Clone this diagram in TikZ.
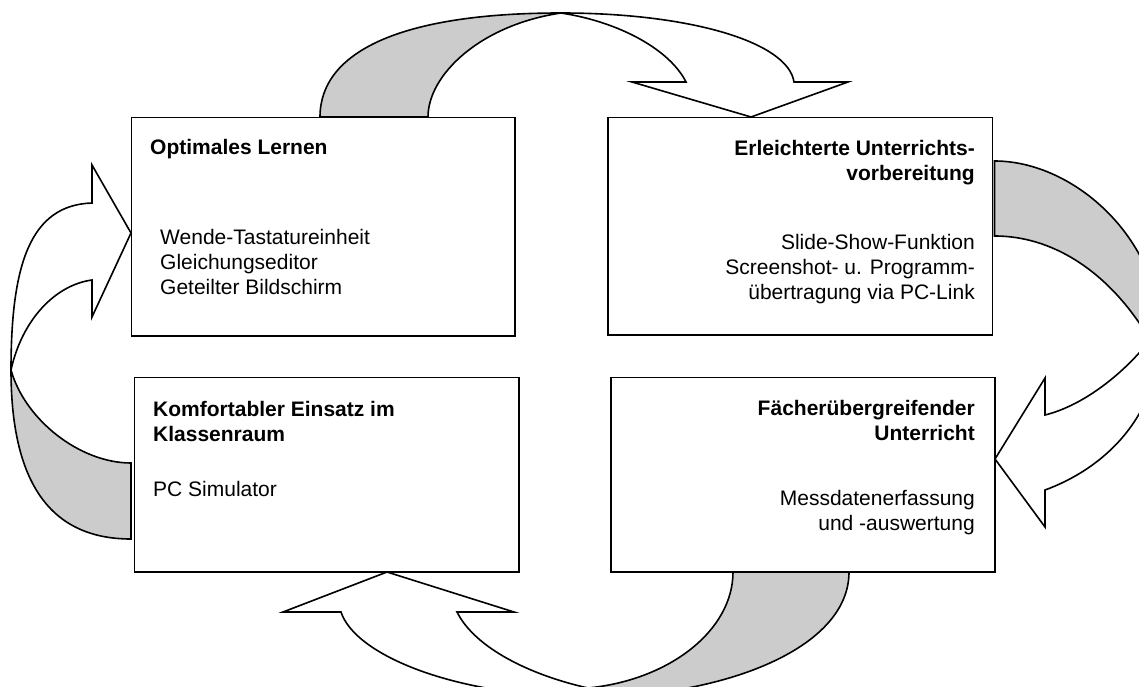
\documentclass[tikz,border=0pt]{standalone}
\usepackage{fontspec}
\setmainfont{Liberation Sans}
\definecolor{shade}{RGB}{204,204,204}
\begin{document}
\begin{tikzpicture}[x=1pt,y=-1pt,
  box/.style={draw, line width=1.8pt, fill=white, inner sep=0pt, outer sep=0pt},
  arrowfront/.style={draw, line width=1.6pt, fill=white, line join=miter},
  arrowback/.style={draw, line width=1.6pt, fill=shade, line join=miter},
  title/.style={font=\bfseries\fontsize{21}{25}\selectfont, inner sep=0pt},
  body/.style={font=\fontsize{21}{25}\selectfont, inner sep=0pt}]
\useasboundingbox (0,0) rectangle (1139,687);
\clip (0,0) rectangle (1139,687);
\fill[white] (0,0) rectangle (1139,687);

% top arrow
\path[arrowback] (320,117) .. controls (320,52) and (400,13) .. (561,13)
  .. controls (480,25) and (428,75) .. (428,117) -- cycle;
\path[arrowfront] (561,13) .. controls (690,13) and (788,42) .. (794,82)
  -- (848,82) -- (751,117) -- (632,82) -- (686,82)
  .. controls (670,50) and (620,22) .. (561,13) -- cycle;

% right arrow
\path[arrowback] (994.5,161) .. controls (1075,161) and (1160,240) .. (1160,333)
  -- (1150,340) .. controls (1115,280) and (1060,236) .. (994.5,236) -- cycle;
\path[arrowfront] (1150,340) -- (1160,333) .. controls (1160,420) and (1100,470) .. (1045,490)
  -- (1045,527) -- (995,459) -- (1045,378) -- (1045,415)
  .. controls (1085,405) and (1125,372) .. (1150,340) -- cycle;

% bottom arrow
\path[arrowback] (849,572) .. controls (849,650) and (720,697) .. (590,697)
  -- (588,688) .. controls (670,680) and (733,630) .. (733,572) -- cycle;
\path[arrowfront] (588,688) -- (590,697) .. controls (455,697) and (355,655) .. (341,612)
  -- (283,612) -- (387,572) -- (514,612) -- (457,612)
  .. controls (475,648) and (530,675) .. (588,688) -- cycle;

% left arrow
\path[arrowback] (131,539) .. controls (45,539) and (11,475) .. (11,370)
  .. controls (25,420) and (80,463) .. (131,463) -- cycle;
\path[arrowfront] (11,370) .. controls (11,265) and (30,205) .. (92,203)
  -- (92,165) -- (131,233) -- (92,317) -- (92,280)
  .. controls (55,285) and (22,320) .. (11,370) -- cycle;

% boxes
\node[box, minimum width=383.5pt, minimum height=218.5pt] (b1) at (323.25,226.75) {};
\node[box, minimum width=384.5pt, minimum height=217.5pt] (b2) at (800.25,226.25) {};
\node[box, minimum width=384.5pt, minimum height=194.5pt] (b3) at (326.75,474.75) {};
\node[box, minimum width=384pt, minimum height=194.5pt] (b4) at (803,474.75) {};

% texts box 1
\node[title, anchor=base west] (t1) at (150,154.5) {Optimales Lernen};
\node[body, anchor=base west] (t1a) at (160,244.5) {Wende-Tastatureinheit};
\node[body, anchor=base west] (t1b) at (160,269.5) {Gleichungseditor};
\node[body, anchor=base west] (t1c) at (160,294.5) {Geteilter Bildschirm};

% texts box 2
\node[title, anchor=base east] (t2) at (975,155.5) {Erleichterte Unterrichts-};
\node[title, anchor=base east] (t2x) at (975,180.5) {vorbereitung};
\node[body, anchor=base east] (t2a) at (975,249.5) {Slide-Show-Funktion};
\node[body, anchor=base east] (t2b) at (975,274.5) {Screenshot- u. Programm-};
\node[body, anchor=base east] (t2c) at (975,299.5) {übertragung via PC-Link};

% texts box 3
\node[title, anchor=base west] (t3) at (153,416.5) {Komfortabler Einsatz im};
\node[title, anchor=base west] (t3x) at (153,441.5) {Klassenraum};
\node[body, anchor=base west] (t3a) at (153,496.5) {PC Simulator};

% texts box 4
\node[title, anchor=base east] (t4) at (975,415.5) {Fächerübergreifender};
\node[title, anchor=base east] (t4x) at (975,440.5) {Unterricht};
\node[body, anchor=base east] (t4a) at (975,505.5) {Messdatenerfassung};
\node[body, anchor=base east] (t4b) at (975,530.5) {und -auswertung};
\end{tikzpicture}
\end{document}
